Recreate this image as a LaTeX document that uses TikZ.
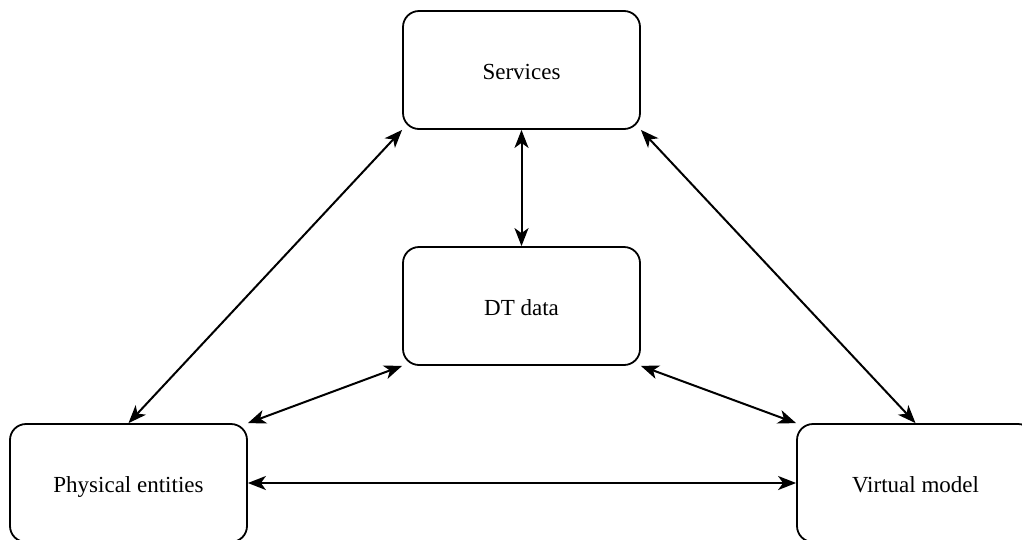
\documentclass[tikz,border=0pt]{standalone}
\usepackage{fontspec}
\setmainfont{Liberation Serif}
\usepackage{tikz}
\usetikzlibrary{arrows.meta}

\begin{document}
\begin{tikzpicture}[x=1pt, y=-1pt,
    block/.style={draw, line width=1.8pt, rounded corners=16pt,
      minimum width=237pt, minimum height=118pt, inner sep=0pt,
      text height=19pt, text depth=0pt,
      font=\fontsize{23}{28}\selectfont},
    link/.style={{Stealth[length=18pt, width=14pt, inset=5pt]}-{Stealth[length=18pt, width=14pt, inset=5pt]},
      line width=2pt}]
  \useasboundingbox (0,0) rectangle (1022,539);
  \clip (0,0) rectangle (1022,539);

  \node[block] at (521.5,70) (services) {Services};
  \node[block] at (521.5,306) (dtdata) {DT data};
  \node[block] at (128.5,483) (physical) {Physical entities};
  \node[block] at (915.5,483) (virtual) {Virtual model};

  \draw[link] (services.south west) -- (physical.north);
  \draw[link] (services.south) -- (dtdata.north);
  \draw[link] (services.south east) -- (virtual.north);

  \draw[link] (dtdata.south west) -- (physical.north east);
  \draw[link] (dtdata.south east) -- (virtual.north west);

  \draw[link] (physical.east) -- (virtual.west);
\end{tikzpicture}
\end{document}
